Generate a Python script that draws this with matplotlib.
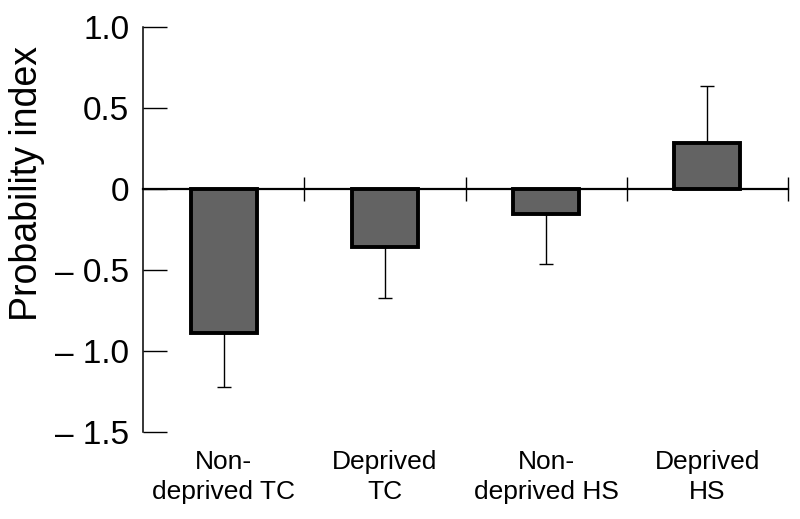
import numpy as np
import matplotlib
matplotlib.use('Agg')
import matplotlib.pyplot as plt
import matplotlib.transforms as mtransforms

# values
groups = ['Non-\ndeprived TC', 'Deprived\nTC', 'Non-\ndeprived HS', 'Deprived\nHS']
means = [-0.89, -0.36, -0.155, 0.285]
errors = [0.33, 0.31, 0.31, 0.35]
ytick_values = [1.0, 0.5, 0.0, -0.5, -1.0, -1.5]
ytick_labels = ['1.0', '0.5', '0', '\u2013 0.5', '\u2013 1.0', '\u2013 1.5']

plt.rcParams['font.family'] = ['Liberation Sans', 'DejaVu Sans']

fig = plt.figure(figsize=(8, 5.19), dpi=100)
ax = fig.add_axes([0.179, 0.1676, 0.806, 0.7803])

x = np.arange(len(groups))
means_arr = np.array(means)
err_arr = np.array(errors)

# one-sided error bars, pointing away from zero
lower = np.where(means_arr < 0, err_arr, 0)
upper = np.where(means_arr >= 0, err_arr, 0)
ax.errorbar(x, means_arr, yerr=[lower, upper], fmt='none', ecolor='black',
            elinewidth=1.0, capsize=4.7, capthick=1.0, zorder=1)

ax.bar(x, means_arr, width=0.41, color='#636363', edgecolor='black',
       linewidth=2.8, zorder=2)

ax.set_xlim(-0.5, 3.5)
ax.set_ylim(-1.5, 1.0)

# spines: left axis plus a baseline at zero
ax.spines['top'].set_visible(False)
ax.spines['right'].set_visible(False)
ax.spines['left'].set_linewidth(1.1)
ax.spines['bottom'].set_position(('data', 0))
ax.spines['bottom'].set_linewidth(1.6)
ax.spines['bottom'].set_zorder(3)

ax.set_yticks(ytick_values)
ax.set_yticklabels(ytick_labels)
ax.tick_params(axis='y', direction='in', length=17, width=1.0, pad=10,
               labelsize=24)

# group boundary ticks on the zero line
ax.set_xticks(x + 0.5)
ax.set_xticklabels([])
ax.tick_params(axis='x', direction='inout', length=17, width=1.0)

trans = mtransforms.blended_transform_factory(ax.transData, ax.transAxes)
for xi, name in zip(x, groups):
    ax.annotate(name, xy=(xi, 0), xycoords=trans, xytext=(0, -13),
                textcoords='offset points', ha='center', va='top',
                fontsize=19, linespacing=1.3, multialignment='center')

ax.set_ylabel('Probability index', fontsize=27)
ax.yaxis.set_label_coords(-0.153, 0.613)

fig.savefig('out.png', dpi=100)
